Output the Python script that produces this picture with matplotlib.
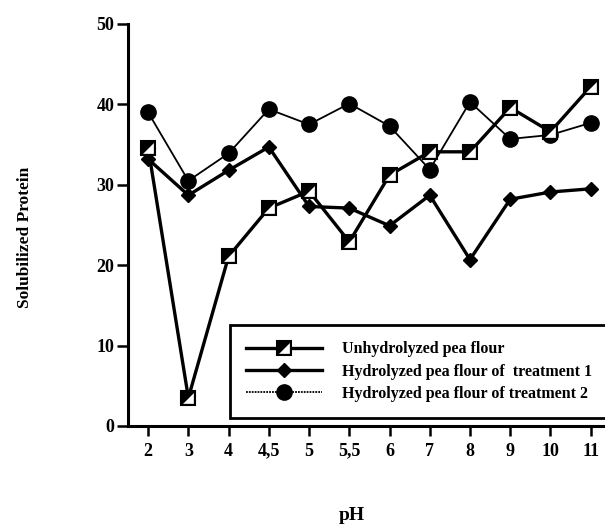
import matplotlib
matplotlib.use("Agg")
import matplotlib.pyplot as plt
from matplotlib.legend_handler import HandlerTuple

ph_labels = ['2', '3', '4', '4,5', '5', '5,5', '6', '7', '8', '9', '10', '11']
unhydrolyzed = [34.6, 3.5, 21.1, 27.1, 29.2, 22.9, 31.2, 34.1, 34.1, 39.6, 36.6, 42.2]
treatment1 = [33.2, 28.7, 31.8, 34.7, 27.3, 27.1, 24.9, 28.7, 20.7, 28.2, 29.1, 29.5]
treatment2 = [39.0, 30.5, 33.9, 39.4, 37.5, 40.1, 37.3, 31.9, 40.3, 35.7, 36.2, 37.7]

plt.rcParams['font.family'] = ['Liberation Serif', 'DejaVu Serif']
plt.rcParams['font.weight'] = 'bold'

fig = plt.figure(figsize=(6.05, 5.27), dpi=100)
ax = fig.add_axes([0.2116, 0.1917, 0.788, 0.7628])

x = list(range(len(ph_labels)))

# white notch inside the square marker (lower right half)
notch = [(-0.7, -0.75), (0.75, -0.75), (0.75, 0.7)]

l2, = ax.plot(x, treatment2, color='black', lw=1.3, marker='o', ms=11,
              mfc='black', mec='black', zorder=2)
l1, = ax.plot(x, treatment1, color='black', lw=2.4, marker='D', ms=7.5,
              mfc='black', mec='black', zorder=3)
l0, = ax.plot(x, unhydrolyzed, color='black', lw=2.4, marker='s', ms=10,
              mfc='black', mec='black', mew=1.5, zorder=4)
n0, = ax.plot(x, unhydrolyzed, ls='none', marker=notch, ms=7,
              mfc='white', mec='white', mew=0.5, zorder=5)

ax.set_xlim(-0.5, 11.35)
ax.set_ylim(0, 50)
ax.set_xticks(x)
ax.set_xticklabels(ph_labels)
ax.set_yticks([0, 10, 20, 30, 40, 50])

for s in ['top', 'right']:
    ax.spines[s].set_visible(False)
for s in ['left', 'bottom']:
    ax.spines[s].set_linewidth(2.2)

ax.tick_params(axis='both', direction='out', width=1.8, labelsize=13)
ax.tick_params(axis='y', length=8, pad=2)
ax.tick_params(axis='x', length=7, pad=5)

l2_leg, = ax.plot([], [], color='black', lw=1.3, ls=(0, (1, 0.6)), marker='o',
                  ms=11, mfc='black', mec='black')
leg = ax.legend([(l0, n0), l1, l2_leg],
                ['Unhydrolyzed pea flour', 'Hydrolyzed pea flour of  treatment 1',
                 'Hydrolyzed pea flour of treatment 2'],
                handler_map={tuple: HandlerTuple(ndivide=1)},
                loc='lower left', bbox_to_anchor=(0.214, 0.02),
                prop={'size': 11.5, 'weight': 'bold'},
                handlelength=4.75, handletextpad=1.25,
                labelspacing=0.4, borderpad=1.0, borderaxespad=0,
                fancybox=False, edgecolor='black', framealpha=1)
leg.get_frame().set_linewidth(2.0)

fig.text(25 / 605, 1 - 237 / 527, 'Solubilized Protein', rotation=90,
         ha='center', va='center', fontsize=12.5, fontweight='bold')
fig.text(352 / 605, 1 - 516 / 527, 'pH', ha='center', va='center',
         fontsize=14, fontweight='bold')

fig.savefig('out.png', dpi=100)
